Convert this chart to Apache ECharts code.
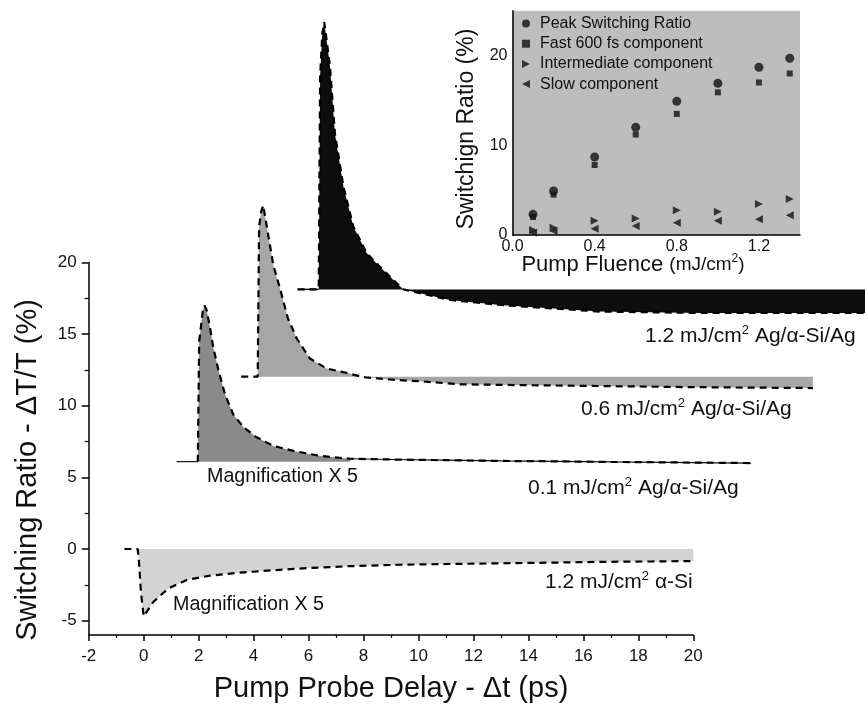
<!DOCTYPE html>
<html><head><meta charset="utf-8">
<script src="https://cdn.jsdelivr.net/npm/echarts@6/dist/echarts.min.js"></script>
<style>html,body{margin:0;padding:0;background:#fff}#c{width:865px;height:712px}</style>
</head><body><div id="c"></div>
<script>
// ---------- main axes ----------
const yTickLabels = [-5, 0, 5, 10, 15, 20];
const yMinorTicks = [-2.5, 2.5, 7.5, 12.5, 17.5];

// ---------- curve 1: 1.2 mJ/cm2 a-Si (x5) ----------
const c1X = [-0.7, -0.22, -0.18, -0.1, 0, 0.35, 0.9, 1.57, 2.41, 3.63, 4.84, 5.8, 7.5, 9.3, 11, 13, 15, 16.6, 18.5, 20];
const c1Y = [0, 0, -0.6, -3.0, -4.7, -3.7, -2.75, -2.16, -1.86, -1.63, -1.47, -1.35, -1.2, -1.1, -1.05, -1.0, -0.95, -0.9, -0.87, -0.84];
const c1Base = 0;

// ---------- curve 2: 0.1 mJ/cm2 Ag/a-Si/Ag (x5) ----------
const c2X = [1.2, 1.97, 2.02, 2.15, 2.21, 2.29, 2.41, 2.53, 2.72, 2.96, 3.26, 3.63, 4.11, 4.72, 5.45, 6.42, 7.51, 9, 11, 13, 15, 17, 19, 21, 22.1];
const c2Y = [6.1, 6.1, 14.5, 16.6, 17.0, 16.7, 15.5, 14.1, 12.5, 10.8, 9.4, 8.5, 7.8, 7.2, 6.85, 6.5, 6.3, 6.25, 6.2, 6.15, 6.12, 6.08, 6.05, 6.02, 6.0];
const c2Base = 6.1;
const c2FillEnd = 16; // index of last filled point

// ---------- curve 3: 0.6 mJ/cm2 Ag/a-Si/Ag ----------
const c3X = [3.55, 4.15, 4.2, 4.28, 4.35, 4.72, 4.96, 5.25, 5.57, 6.05, 6.66, 7.39, 7.98, 9.21, 10.17, 11.51, 13.5, 16.6, 20, 24.35];
const c3Y = [12.03, 12.03, 22.5, 23.6, 24.0, 19.8, 18.2, 16.1, 14.7, 13.3, 12.6, 12.3, 12.0, 11.8, 11.7, 11.5, 11.45, 11.38, 11.3, 11.24];
const c3Base = 12.03;

// ---------- curve 4: 1.2 mJ/cm2 Ag/a-Si/Ag ----------
const c4X = [5.6, 6.37, 6.42, 6.5, 6.57, 6.66, 6.78, 6.96, 7.27, 7.63, 8.12, 8.6, 9.08, 9.45, 11.15, 12.97, 16.6, 20.25, 26.3];
const c4Y = [18.13, 18.13, 33.0, 36.0, 36.8, 35.5, 33.7, 29.0, 25.3, 22.5, 20.65, 19.7, 18.8, 18.13, 17.39, 17.04, 16.58, 16.48, 16.48];
const c4Base = 18.13;

// ---------- inset ----------
const fluence   = [0.1, 0.2, 0.4, 0.6, 0.8, 1.0, 1.2, 1.35];
const peakRatio = [2.3, 4.9, 8.7, 12.0, 14.9, 16.9, 18.7, 19.7];
const fastComp  = [2.0, 4.5, 7.8, 11.2, 13.5, 15.9, 17.0, 18.0];
const interComp = [0.55, 0.8, 1.6, 1.85, 2.75, 2.6, 3.45, 4.0];
const slowComp  = [0.25, 0.45, 0.7, 1.0, 1.37, 1.6, 1.75, 2.2];
const legendNames = ['Peak Switching Ratio', 'Fast 600 fs component', 'Intermediate component', 'Slow component'];

const zip = (xs, ys) => xs.map((x, i) => [x, ys[i]]);
const FONT = '"Liberation Sans", Arial, sans-serif';

// layout
const G = {left: 88.7, top: 262.6, width: 604.6, height: 372.3};
const pxX = G.width / 22, pxY = G.height / 26;
const W = 865, H = 712;
const hxMax = -2 + (W - G.left) / pxX;
const hyMax = 20 + G.top / pxY;
const hyMin = 20 - (H - G.top) / pxY;

const axisLine = {show: true, onZero: false, lineStyle: {color: '#000', width: 1.5}};
const DASH = {color: '#000', width: 2.2, type: [7, 5]};

function fill(data, base, color) {
  return {type: 'line', xAxisIndex: 1, yAxisIndex: 2, data, symbol: 'none', silent: true,
    lineStyle: {width: 0, opacity: 0}, areaStyle: {origin: base, color, opacity: 1}, z: 2};
}
function fit(data) {
  return {type: 'line', xAxisIndex: 1, yAxisIndex: 2, data, symbol: 'none', silent: true,
    lineStyle: DASH, z: 4};
}
function solid(data, w) {
  return {type: 'line', xAxisIndex: 1, yAxisIndex: 2, data, symbol: 'none', silent: true,
    lineStyle: {color: '#111', width: w}, z: 3};
}

const c1 = zip(c1X, c1Y), c2 = zip(c2X, c2Y), c3 = zip(c3X, c3Y), c4 = zip(c4X, c4Y);

const chart = echarts.init(document.getElementById('c'), null, {renderer: 'canvas'});
const RICH = {
  a: {fontSize: 21, fontFamily: FONT, fill: '#111', lineHeight: 24},
  s: {fontSize: 13, fontFamily: FONT, fill: '#111', verticalAlign: 'top', lineHeight: 14}
};
const lbl = (head, tail, x, y) => ({
  type: 'text', x, y, z: 100,
  style: {text: '{a|' + head + '}{s|2}{a|' + tail + '}', textVerticalAlign: 'middle', rich: RICH}
});
const txt = (text, x, y, size) => ({
  type: 'text', x, y, z: 100,
  style: {text, fill: '#111', font: size + 'px ' + FONT, textVerticalAlign: 'middle'}
});
const SQUARE = 'path://M0,0L10,0L10,10L0,10Z';

chart.setOption({
  animation: false,
  backgroundColor: '#fff',
  grid: [
    {left: G.left, top: G.top, width: G.width, height: G.height},
    {left: G.left, top: 0, width: W - G.left, height: H},
    {left: 512.5, top: 10.7, width: 287.5, height: 224.3, show: true, backgroundColor: '#bdbdbd', borderWidth: 0}
  ],
  xAxis: [
    {type: 'value', gridIndex: 0, min: -2, max: 20, interval: 2, axisLine,
      axisTick: {show: true, length: 6, lineStyle: {color: '#000', width: 1.5}},
      minorTick: {show: true, splitNumber: 2, length: 3, lineStyle: {color: '#000', width: 1.2}},
      axisLabel: {color: '#111', fontSize: 17, fontFamily: FONT, margin: 13},
      splitLine: {show: false}, minorSplitLine: {show: false}},
    {type: 'value', gridIndex: 1, min: -2, max: hxMax, show: false, splitLine: {show: false}},
    {type: 'value', gridIndex: 2, min: 0, max: 1.4, interval: 0.4, axisLine,
      axisTick: {show: false},
      axisLabel: {color: '#111', fontSize: 16, fontFamily: FONT, margin: 4, showMaxLabel: false,
        formatter: v => v.toFixed(1)},
      splitLine: {show: false}}
  ],
  yAxis: [
    {type: 'value', gridIndex: 0, min: -6, max: 20, axisLine,
      axisTick: {show: true, length: 7, customValues: yTickLabels, lineStyle: {color: '#000', width: 1.5}},
      axisLabel: {color: '#111', fontSize: 17, fontFamily: FONT, margin: 12, customValues: yTickLabels},
      splitLine: {show: false}},
    {type: 'value', gridIndex: 0, min: -6, max: 20, position: 'left',
      axisLine: {show: false, onZero: false},
      axisTick: {show: true, length: 4, customValues: yMinorTicks, lineStyle: {color: '#000', width: 1.2}},
      axisLabel: {show: false}, splitLine: {show: false}},
    {type: 'value', gridIndex: 1, min: hyMin, max: hyMax, show: false, splitLine: {show: false}},
    {type: 'value', gridIndex: 2, min: 0, max: 25, interval: 10, axisLine,
      axisTick: {show: false},
      axisLabel: {color: '#111', fontSize: 16, fontFamily: FONT, margin: 5, showMaxLabel: false},
      splitLine: {show: false}}
  ],
  legend: {
    orient: 'vertical', left: 517, top: 10.5, itemWidth: 18, itemHeight: 8, itemGap: 4.2,
    textStyle: {color: '#111', fontSize: 16, fontFamily: FONT},
    data: legendNames, selectedMode: false
  },
  series: [
    // curve 1
    fill(c1.slice(1), c1Base, '#d3d3d3'),
    fit(c1),
    // curve 2
    fill(c2.slice(1, c2FillEnd + 1), c2Base, '#8a8a8a'),
    solid(c2.slice(0, 2), 1.2),
    solid(c2.slice(c2FillEnd), 1.2),
    fit(c2.slice(1)),
    // curve 3
    fill(c3.slice(1), c3Base, '#a6a6a6'),
    fit(c3),
    // curve 4
    fill(c4.slice(1), c4Base, '#0d0d0d'),
    solid(c4.slice(0, 2), 1.5),
    fit(c4),
    // inset
    {name: legendNames[0], type: 'scatter', xAxisIndex: 2, yAxisIndex: 3, data: zip(fluence, peakRatio),
      symbol: 'circle', symbolSize: 9, itemStyle: {color: '#111'}, z: 5},
    {name: legendNames[1], type: 'scatter', xAxisIndex: 2, yAxisIndex: 3, data: zip(fluence, fastComp),
      symbol: SQUARE, symbolSize: 6, itemStyle: {color: '#111'}, z: 5},
    {name: legendNames[2], type: 'scatter', xAxisIndex: 2, yAxisIndex: 3, data: zip(fluence, interComp),
      symbol: 'path://M0,0L10,5L0,10Z', symbolSize: 8, itemStyle: {color: '#111'}, z: 5},
    {name: legendNames[3], type: 'scatter', xAxisIndex: 2, yAxisIndex: 3, data: zip(fluence, slowComp),
      symbol: 'path://M10,0L0,5L10,10Z', symbolSize: 8, itemStyle: {color: '#111'}, z: 5}
  ],
  graphic: [
    {type: 'text', x: 391, y: 689, z: 100,
      style: {text: 'Pump Probe Delay - Δt (ps)', fill: '#111', font: '29px ' + FONT, textAlign: 'center', textVerticalAlign: 'middle'}},
    {type: 'text', x: 28, y: 470, rotation: Math.PI / 2, z: 100,
      style: {text: 'Switching Ratio - ΔT/T (%)', fill: '#111', font: '29px ' + FONT, textAlign: 'center', textVerticalAlign: 'middle'}},
    {type: 'text', x: 467, y: 129, rotation: Math.PI / 2, z: 100,
      style: {text: 'Switchign Ratio (%)', fill: '#111', font: '23px ' + FONT, textAlign: 'center', textVerticalAlign: 'middle'}},
    {type: 'text', x: 633, y: 265, z: 100,
      style: {text: '{a|Pump Fluence }{b|(mJ/cm}{c|2}{b|)}', textAlign: 'center', textVerticalAlign: 'middle',
        rich: {a: {fontSize: 22, fontFamily: FONT, fill: '#111', lineHeight: 24},
               b: {fontSize: 19, fontFamily: FONT, fill: '#111', lineHeight: 24},
               c: {fontSize: 12, fontFamily: FONT, fill: '#111', verticalAlign: 'top', lineHeight: 14}}}},
    lbl('1.2 mJ/cm', ' Ag/α-Si/Ag', 645, 336),
    lbl('0.6 mJ/cm', ' Ag/α-Si/Ag', 581, 409),
    lbl('0.1 mJ/cm', ' Ag/α-Si/Ag', 528, 488),
    lbl('1.2 mJ/cm', ' α-Si', 545, 582),
    txt('Magnification X 5', 207, 477, 19.7),
    txt('Magnification X 5', 173, 605, 19.7)
  ]
});
</script></body></html>
